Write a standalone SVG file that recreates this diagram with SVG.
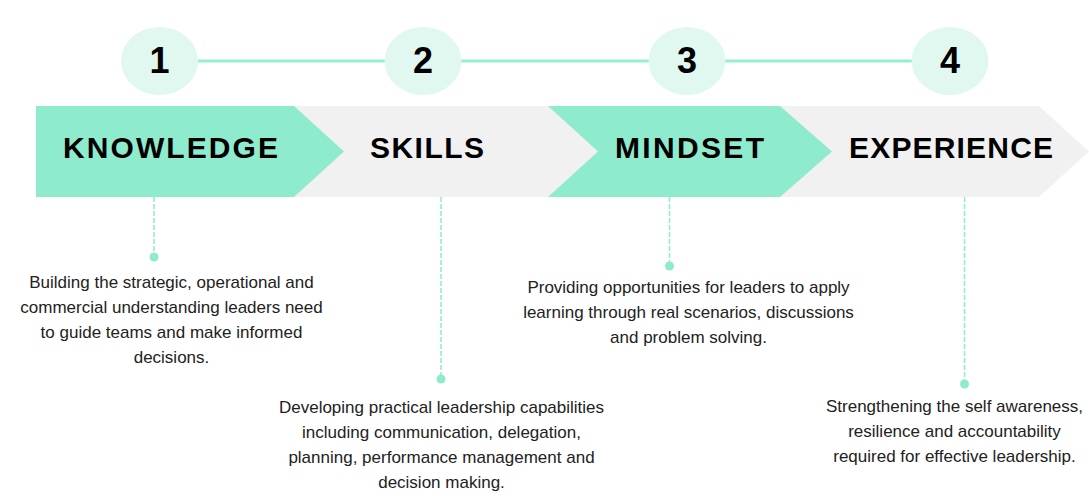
<svg xmlns="http://www.w3.org/2000/svg" width="1089" height="500" viewBox="0 0 1089 500">
<style>
.num{font-family:"Liberation Sans",Arial,sans-serif;font-weight:bold;font-size:36px;fill:#000;text-anchor:middle}
.head{font-family:"Liberation Sans",Arial,sans-serif;font-weight:bold;font-size:30px;fill:#000}
.body{font-family:"Liberation Sans",Arial,sans-serif;font-size:17px;fill:#222;text-anchor:middle}
.circ{fill:#e1f8f0}
.green{fill:#8eebcd}
.gray{fill:#f1f1f1}
.dash{stroke:#8eebcd;stroke-width:1.5;stroke-dasharray:5 2;fill:none}
.dot{fill:#8eebcd}
</style>
<rect width="1089" height="500" fill="#fff"/>
<g id="connectors">
<line x1="160" y1="61" x2="950" y2="61" stroke="#96edd0" stroke-width="3"/>
<line class="dash" x1="154" y1="197" x2="154" y2="257"/>
<line class="dash" x1="441" y1="197" x2="441" y2="379"/>
<line class="dash" x1="669.5" y1="197" x2="669.5" y2="266"/>
<line class="dash" x1="964.5" y1="197" x2="964.5" y2="384"/>
<circle class="dot" cx="154" cy="257" r="4.5"/>
<circle class="dot" cx="441" cy="379" r="4.5"/>
<circle class="dot" cx="669.5" cy="266" r="4.5"/>
<circle class="dot" cx="964.5" cy="384" r="4.5"/>
</g>
<g id="band">
<polygon class="gray" points="36,106 1039,106 1089,151.5 1039,197 36,197"/>
</g>
<g id="step1">
<ellipse class="circ" cx="159.5" cy="61" rx="38.5" ry="34"/>
<text class="num" x="159.5" y="73">1</text>
<polygon class="green" points="36,106 294,106 344,151.5 294,197 36,197"/>
<text class="head" x="63" y="158" textLength="215" lengthAdjust="spacing">KNOWLEDGE</text>
<text class="body"><tspan x="171.5" y="288">Building the strategic, operational and</tspan><tspan x="171.5" y="313">commercial understanding leaders need</tspan><tspan x="171.5" y="338">to guide teams and make informed</tspan><tspan x="171.5" y="363">decisions.</tspan></text>
</g>
<g id="step2">
<ellipse class="circ" cx="423" cy="61" rx="38.5" ry="34"/>
<text class="num" x="423" y="73">2</text>
<text class="head" x="370" y="158" textLength="114" lengthAdjust="spacing">SKILLS</text>
<text class="body"><tspan x="441.5" y="413">Developing practical leadership capabilities</tspan><tspan x="441.5" y="438">including communication, delegation,</tspan><tspan x="441.5" y="463">planning, performance management and</tspan><tspan x="441.5" y="488">decision making.</tspan></text>
</g>
<g id="step3">
<ellipse class="circ" cx="687" cy="61" rx="38.5" ry="34"/>
<text class="num" x="687" y="73">3</text>
<polygon class="green" points="548,106 780,106 832,151.5 780,197 548,197 598,151.5"/>
<text class="head" x="615" y="158" textLength="149" lengthAdjust="spacing">MINDSET</text>
<text class="body"><tspan x="688.5" y="293">Providing opportunities for leaders to apply</tspan><tspan x="688.5" y="318">learning through real scenarios, discussions</tspan><tspan x="688.5" y="343">and problem solving.</tspan></text>
</g>
<g id="step4">
<ellipse class="circ" cx="950" cy="61" rx="38.5" ry="34"/>
<text class="num" x="950" y="73">4</text>
<text class="head" x="849" y="158" textLength="204" lengthAdjust="spacing">EXPERIENCE</text>
<text class="body"><tspan x="954.5" y="412">Strengthening the self awareness,</tspan><tspan x="954.5" y="437">resilience and accountability</tspan><tspan x="954.5" y="462">required for effective leadership.</tspan></text>
</g>
</svg>
